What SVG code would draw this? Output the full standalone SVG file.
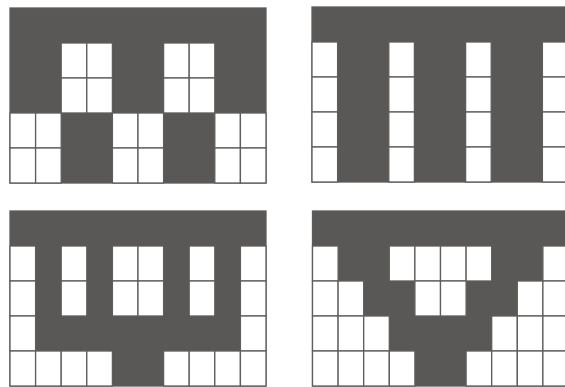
<svg xmlns="http://www.w3.org/2000/svg" width="565" height="387" viewBox="0 0 565 387">
<style>
.bg{fill:#5a5856;stroke:#5f5d5b;stroke-width:1.3}
.w{fill:#ffffff;stroke:#5f5d5b;stroke-width:1.3}
</style>
<defs>
<rect id="c" class="w" width="25.6" height="35"/>
</defs>
<rect width="565" height="387" fill="#ffffff"/>
<g id="panel-top-left" transform="translate(10,8)">
<rect class="bg" width="256" height="175"/>
<use href="#c" x="51.2" y="35"/><use href="#c" x="76.8" y="35"/><use href="#c" x="153.6" y="35"/><use href="#c" x="179.2" y="35"/>
<use href="#c" x="51.2" y="70"/><use href="#c" x="76.8" y="70"/><use href="#c" x="153.6" y="70"/><use href="#c" x="179.2" y="70"/>
<use href="#c" x="0" y="105"/><use href="#c" x="25.6" y="105"/><use href="#c" x="102.4" y="105"/><use href="#c" x="128" y="105"/><use href="#c" x="204.8" y="105"/><use href="#c" x="230.4" y="105"/>
<use href="#c" x="0" y="140"/><use href="#c" x="25.6" y="140"/><use href="#c" x="102.4" y="140"/><use href="#c" x="128" y="140"/><use href="#c" x="204.8" y="140"/><use href="#c" x="230.4" y="140"/>
</g>
<g id="panel-top-right" transform="translate(312,7)">
<rect class="bg" width="256" height="175"/>
<use href="#c" x="0" y="35"/><use href="#c" x="76.8" y="35"/><use href="#c" x="153.6" y="35"/><use href="#c" x="230.4" y="35"/>
<use href="#c" x="0" y="70"/><use href="#c" x="76.8" y="70"/><use href="#c" x="153.6" y="70"/><use href="#c" x="230.4" y="70"/>
<use href="#c" x="0" y="105"/><use href="#c" x="76.8" y="105"/><use href="#c" x="153.6" y="105"/><use href="#c" x="230.4" y="105"/>
<use href="#c" x="0" y="140"/><use href="#c" x="76.8" y="140"/><use href="#c" x="153.6" y="140"/><use href="#c" x="230.4" y="140"/>
</g>
<g id="panel-bottom-left" transform="translate(10,211)">
<rect class="bg" width="256" height="175"/>
<use href="#c" x="0" y="35"/><use href="#c" x="51.2" y="35"/><use href="#c" x="102.4" y="35"/><use href="#c" x="128" y="35"/><use href="#c" x="179.2" y="35"/><use href="#c" x="230.4" y="35"/>
<use href="#c" x="0" y="70"/><use href="#c" x="51.2" y="70"/><use href="#c" x="102.4" y="70"/><use href="#c" x="128" y="70"/><use href="#c" x="179.2" y="70"/><use href="#c" x="230.4" y="70"/>
<use href="#c" x="0" y="105"/><use href="#c" x="230.4" y="105"/>
<use href="#c" x="0" y="140"/><use href="#c" x="25.6" y="140"/><use href="#c" x="51.2" y="140"/><use href="#c" x="76.8" y="140"/><use href="#c" x="153.6" y="140"/><use href="#c" x="179.2" y="140"/><use href="#c" x="204.8" y="140"/><use href="#c" x="230.4" y="140"/>
</g>
<g id="panel-bottom-right" transform="translate(312.5,211)">
<rect class="bg" width="256" height="175"/>
<use href="#c" x="0" y="35"/><use href="#c" x="76.8" y="35"/><use href="#c" x="102.4" y="35"/><use href="#c" x="128" y="35"/><use href="#c" x="153.6" y="35"/><use href="#c" x="230.4" y="35"/>
<use href="#c" x="0" y="70"/><use href="#c" x="25.6" y="70"/><use href="#c" x="102.4" y="70"/><use href="#c" x="128" y="70"/><use href="#c" x="204.8" y="70"/><use href="#c" x="230.4" y="70"/>
<use href="#c" x="0" y="105"/><use href="#c" x="25.6" y="105"/><use href="#c" x="51.2" y="105"/><use href="#c" x="179.2" y="105"/><use href="#c" x="204.8" y="105"/><use href="#c" x="230.4" y="105"/>
<use href="#c" x="0" y="140"/><use href="#c" x="25.6" y="140"/><use href="#c" x="51.2" y="140"/><use href="#c" x="76.8" y="140"/><use href="#c" x="153.6" y="140"/><use href="#c" x="179.2" y="140"/><use href="#c" x="204.8" y="140"/><use href="#c" x="230.4" y="140"/>
</g>
</svg>
